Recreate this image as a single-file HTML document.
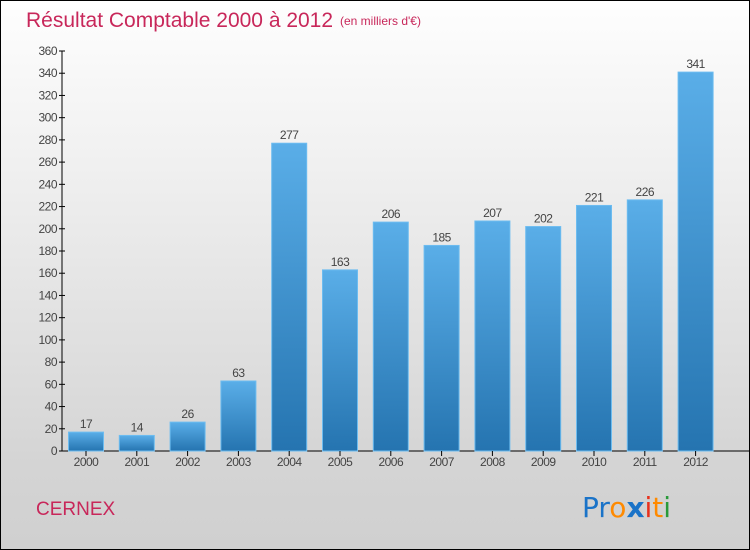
<!DOCTYPE html>
<html><head><meta charset="utf-8"><style>
body{margin:0}
#c{width:750px;height:550px;position:relative;box-sizing:border-box;border:1px solid #000;background:linear-gradient(#fefefe,#f0f0f0 30%,#d4d4d4 85%,#d0d0d0);font-family:"Liberation Sans",sans-serif;overflow:hidden}
</style></head><body>
<div id="c">
<svg id="s" width="750" height="550" style="position:absolute;left:-1px;top:-1px">
<defs><linearGradient id="g" x1="0" y1="0" x2="0" y2="1"><stop offset="0" stop-color="#5aaee8"/><stop offset="1" stop-color="#2574b0"/></linearGradient></defs>
<text x="26" y="27" font-size="21" fill="#c8275a">Résultat Comptable 2000 à 2012</text>
<text x="340" y="25" font-size="12" fill="#c8275a">(en milliers d'€)</text>
<text x="36" y="515" font-size="19" fill="#c8275a">CERNEX</text>
<g font-size="28" font-family="'DejaVu Sans',sans-serif">
<text x="582" y="517"><tspan fill="#1a73c8">Pr</tspan><tspan fill="#ff8a00">o</tspan><tspan fill="#1a73c8" font-weight="bold">x</tspan><tspan fill="#e8301c">i</tspan><tspan fill="#ff8a00">t</tspan><tspan fill="#2a9a3a">i</tspan></text></g>
</svg>
</div>
<script>
const years=["2000","2001","2002","2003","2004","2005","2006","2007","2008","2009","2010","2011","2012"];
const values=[17,14,26,63,277,163,206,185,207,202,221,226,341];
const yTicks=[0,20,40,60,80,100,120,140,160,180,200,220,240,260,280,300,320,340,360];
const NS="http://www.w3.org/2000/svg",s=document.getElementById('s');
const y=v=>451-v*400/360, x=i=>86+i*50.8;
function el(t,a,p){const e=document.createElementNS(NS,t);for(const k in a)e.setAttribute(k,a[k]);(p||s).appendChild(e);return e;}
let ax=el('line',{x1:62,y1:51,x2:62,y2:451,stroke:'#000'});


let xa=el('line',{x1:62,y1:451,x2:750,y2:451,stroke:'#000'});


yTicks.forEach(v=>{
 el('line',{x1:59,x2:65,y1:y(v),y2:y(v),stroke:'#000'});
 let t=el('text',{x:57,y:y(v)+4,'font-size':12,'text-anchor':'end',fill:'#444','letter-spacing':'-0.5'});t.textContent=v;
 
 
});
years.forEach((yr,i)=>{
 const v=values[i];
 let r=el('rect',{x:x(i)-17.5,y:y(v),width:35,height:451-y(v),fill:'url(#g)',stroke:'#6cbcf0','stroke-width':1});
 
 
 el('line',{x1:x(i),x2:x(i),y1:451,y2:456,stroke:'#000'});
 let t=el('text',{x:x(i),y:466,'font-size':12,'text-anchor':'middle',fill:'#444','letter-spacing':'-0.5'});t.textContent=yr;
 
 
 let l=el('text',{x:x(i),y:y(v)-4,'font-size':12,'text-anchor':'middle',fill:'#444','letter-spacing':'-0.5'});l.textContent=v;
 
 
});
</script>
</body></html>
